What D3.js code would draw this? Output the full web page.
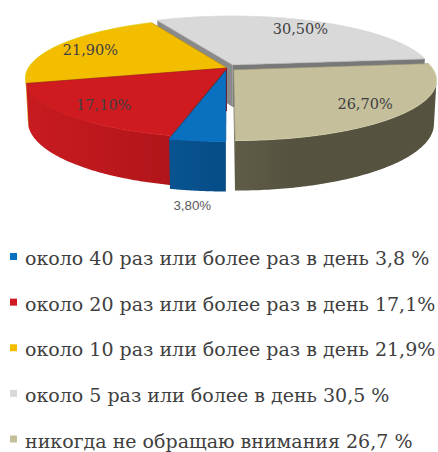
<!DOCTYPE html>
<html>
<head>
<meta charset="utf-8">
<script src="https://cdn.jsdelivr.net/npm/d3@7"></script>
<style>
  html, body { margin: 0; padding: 0; background: #fff; }
  svg { display: block; }
</style>
</head>
<body>
<svg id="chart" width="438" height="452"></svg>
<script>
// Data
const categories = [
  "около 40 раз или более раз в день",
  "около 20 раз или более раз в день",
  "около 10 раз или более раз в день",
  "около 5 раз или более в день",
  "никогда не обращаю внимания"
];
const values = [3.8, 17.1, 21.9, 30.5, 26.7];
const sliceLabels = ["3,80%", "17,10%", "21,90%", "30,50%", "26,70%"];
const legendLabels = [
  "около 40 раз или более раз в день 3,8 %",
  "около 20 раз или более раз в день 17,1%",
  "около 10 раз или более раз в день 21,9%",
  "около 5 раз или более в день 30,5 %",
  "никогда не обращаю внимания 26,7 %"
];

// Colours
const TOP_COLORS = ["#0A71C0", "#CF1B20", "#F3BD00", "#D9D9D9", "#C5BF9C"];
const SIDE_LIGHT = ["#0E63A8", "#C81B20", "#D9A600", "#8A8A8A", "#7C7864"];
const SIDE_DARK = ["#03467C", "#9C1014", "#B08600", "#676767", "#55523F"];

// Explosion of each slice, as a share of the radius
const EXPLODE = [0.04, 0, 0, 0.06, 0.045];

// 3D view (radius = 1)
const VIEW = {
  cx: 227,
  cy: 68,
  F: 1116,
  D: 5.62,
  phi: 17 * Math.PI / 180,
  thickness: 0.225,
  labelR: 0.8,
  outerLabelR: 1.15
};
const sinP = Math.sin(VIEW.phi);
const cosP = Math.cos(VIEW.phi);
const CAM = [0, VIEW.D * sinP, VIEW.D * cosP];
const LIGHT = (() => { const l = [-1, 0, 0.25], n = Math.hypot(...l); return l.map(v => v / n); })();

const svg = d3.select("#chart");
const defs = svg.append("defs");
const line = d3.line();

// world point -> screen point
function project(X, Y, Z) {
  const d = VIEW.D - Y * sinP - Z * cosP;
  const up = Y * cosP - Z * sinP;
  return [VIEW.cx + VIEW.F * X / d, VIEW.cy - VIEW.F * up / d];
}

// unit vector on the disc, angle clockwise from 12 o'clock
function dir(a) { return [Math.sin(a), 0, -Math.cos(a)]; }
function dot(a, b) { return a[0] * b[0] + a[1] * b[1] + a[2] * b[2]; }
function facing(n, p) { return dot(n, [CAM[0] - p[0], CAM[1] - p[1], CAM[2] - p[2]]) > 0; }
function shade(i, n, bias) {
  const t = Math.max(0, Math.min(1, dot(n, LIGHT) * (1 - bias) + bias));
  return d3.interpolateRgb(SIDE_DARK[i], SIDE_LIGHT[i])(t);
}

const pie = d3.pie().sort(null).startAngle(Math.PI).endAngle(3 * Math.PI);
const slices = pie(values).map((d, i) => {
  const mid = (d.startAngle + d.endAngle) / 2;
  const u = dir(mid);
  const o = u.map(v => v * EXPLODE[i]);
  const c = [o[0] + u[0] * 0.5, 0, o[2] + u[2] * 0.5];
  const depth = VIEW.D - c[2] * cosP;
  return { ...d, i, mid, o, depth };
});

const H = VIEW.thickness;
const order = slices.slice().sort((a, b) => b.depth - a.depth);
const wallLayer = svg.append("g");
const topLayer = svg.append("g");

order.forEach(s => {
  const { o, i } = s;
  const g = wallLayer.append("g");

  // radial walls
  [[s.startAngle, -1], [s.endAngle, 1]].forEach(([a, sign]) => {
    const n = [Math.cos(a) * sign, 0, Math.sin(a) * sign];
    if (!facing(n, o)) return;
    const u = dir(a);
    const pts = [
      project(o[0], 0, o[2]),
      project(o[0] + u[0], 0, o[2] + u[2]),
      project(o[0] + u[0], -H, o[2] + u[2]),
      project(o[0], -H, o[2])
    ];
    g.append("path").attr("d", line(pts) + "Z").attr("fill", shade(i, n, 0.4));
  });

  // outer wall, only the part that faces the camera
  const steps = 120;
  const vis = [];
  for (let k = 0; k <= steps; k++) {
    const a = s.startAngle + (s.endAngle - s.startAngle) * k / steps;
    const u = dir(a);
    if (facing(u, [o[0] + u[0], 0, o[2] + u[2]])) vis.push(a);
  }
  if (vis.length > 1) {
    const topPts = vis.map(a => { const u = dir(a); return project(o[0] + u[0], 0, o[2] + u[2]); });
    const botPts = vis.map(a => { const u = dir(a); return project(o[0] + u[0], -H, o[2] + u[2]); }).reverse();
    const xs = topPts.map(p => p[0]);
    const x0 = d3.min(xs), x1 = d3.max(xs);
    const gradId = "side" + i;
    const grad = defs.append("linearGradient")
      .attr("id", gradId)
      .attr("gradientUnits", "userSpaceOnUse")
      .attr("x1", x0).attr("x2", x1).attr("y1", 0).attr("y2", 0);
    const stops = vis.map((a, k) => ({ off: (xs[k] - x0) / Math.max(1, x1 - x0), col: shade(i, dir(a), 0) }))
      .sort((p, q) => p.off - q.off);
    grad.selectAll("stop").data(stops).enter().append("stop")
      .attr("offset", d => d.off)
      .attr("stop-color", d => d.col);
    g.append("path").attr("d", line(topPts.concat(botPts)) + "Z").attr("fill", `url(#${gradId})`);
  }

  // top face
  const arcPts = d3.range(0, 121).map(k => {
    const a = s.startAngle + (s.endAngle - s.startAngle) * k / 120;
    const u = dir(a);
    return project(o[0] + u[0], 0, o[2] + u[2]);
  });
  topLayer.append("path")
    .attr("d", line([project(o[0], 0, o[2])].concat(arcPts)) + "Z")
    .attr("fill", TOP_COLORS[i])
    .attr("stroke", d3.color(TOP_COLORS[i]).darker(0.8))
    .attr("stroke-width", 0.6);
  topLayer.append("path")
    .attr("d", line(arcPts))
    .attr("fill", "none")
    .attr("stroke", d3.color(TOP_COLORS[i]).brighter(0.8))
    .attr("stroke-opacity", 0.6)
    .attr("stroke-width", 0.8);
});

// slice labels
slices.forEach(s => {
  const u = dir(s.mid);
  const outside = values[s.i] < 5;
  const r = outside ? VIEW.outerLabelR : VIEW.labelR;
  const p = project(s.o[0] + u[0] * r, outside ? -H : 0, s.o[2] + u[2] * r);
  svg.append("text")
    .attr("x", p[0])
    .attr("y", p[1])
    .attr("dy", "0.36em")
    .attr("text-anchor", "middle")
    .style("font-family", outside ? "'Liberation Sans', Arial, sans-serif" : "'DejaVu Serif', serif")
    .style("font-size", outside ? "13.3px" : "14.5px")
    .style("fill", outside ? "#595959" : "#404040")
    .text(sliceLabels[s.i]);
});

// legend
const rowY = d3.scalePoint().domain(categories).range([258.5, 441]);
const legend = svg.append("g");
categories.forEach((c, i) => {
  legend.append("rect")
    .attr("x", 10)
    .attr("y", rowY(c) - 5.5)
    .attr("width", 7)
    .attr("height", 7)
    .attr("fill", TOP_COLORS[i]);
  legend.append("text")
    .attr("x", 25)
    .attr("y", rowY(c))
    .attr("dy", "0.35em")
    .style("font-family", "'DejaVu Serif', serif")
    .style("font-size", "19px")
    .style("fill", "#404040")
    .text(legendLabels[i]);
});
</script>
</body>
</html>
